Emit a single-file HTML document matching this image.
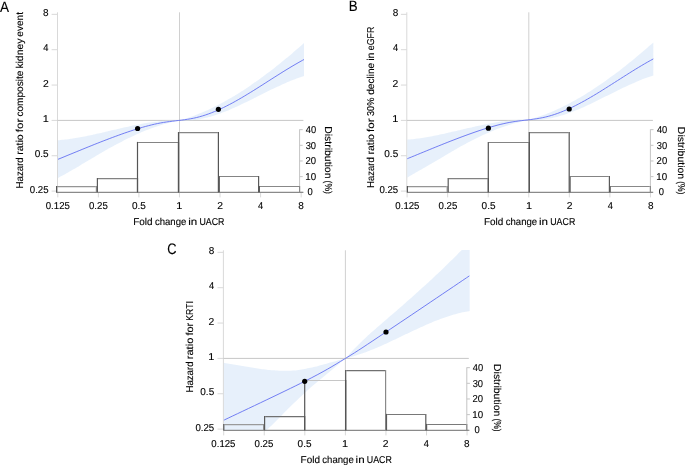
<!DOCTYPE html>
<html><head><meta charset="utf-8"><style>
html,body{margin:0;padding:0;background:#fff;width:685px;height:465px;overflow:hidden;}
svg{display:block;will-change:transform;font-family:"Liberation Sans", sans-serif;}
</style></head><body>
<svg width="685" height="465" viewBox="0 0 685 465">
<rect width="100%" height="100%" fill="#fff"/>
<g transform="translate(0.00 0.00)">
<line x1="57.50" y1="12.30" x2="57.50" y2="192.30" stroke="#d9d9d9" stroke-width="1"/>
<line x1="51.60" y1="14.35" x2="57.50" y2="14.35" stroke="#d9d9d9" stroke-width="1"/>
<line x1="51.60" y1="49.70" x2="57.50" y2="49.70" stroke="#d9d9d9" stroke-width="1"/>
<line x1="51.60" y1="85.05" x2="57.50" y2="85.05" stroke="#d9d9d9" stroke-width="1"/>
<line x1="51.60" y1="120.40" x2="57.50" y2="120.40" stroke="#d9d9d9" stroke-width="1"/>
<line x1="51.60" y1="155.75" x2="57.50" y2="155.75" stroke="#d9d9d9" stroke-width="1"/>
<line x1="51.60" y1="191.10" x2="57.50" y2="191.10" stroke="#d9d9d9" stroke-width="1"/>
<line x1="57.80" y1="192.80" x2="57.80" y2="197.40" stroke="#d9d9d9" stroke-width="1"/>
<line x1="98.36" y1="192.80" x2="98.36" y2="197.40" stroke="#d9d9d9" stroke-width="1"/>
<line x1="138.92" y1="192.80" x2="138.92" y2="197.40" stroke="#d9d9d9" stroke-width="1"/>
<line x1="179.48" y1="192.80" x2="179.48" y2="197.40" stroke="#d9d9d9" stroke-width="1"/>
<line x1="220.04" y1="192.80" x2="220.04" y2="197.40" stroke="#d9d9d9" stroke-width="1"/>
<line x1="260.60" y1="192.80" x2="260.60" y2="197.40" stroke="#d9d9d9" stroke-width="1"/>
<line x1="301.16" y1="192.80" x2="301.16" y2="197.40" stroke="#d9d9d9" stroke-width="1"/>
<line x1="179.50" y1="12.30" x2="179.50" y2="192.30" stroke="#d0d0d0" stroke-width="1"/>
<line x1="57.50" y1="120.40" x2="303.40" y2="120.40" stroke="#c6c6c6" stroke-width="1"/>
</g>
<g transform="translate(0.00 0.00)">
<clipPath id="clipA"><rect x="58.00" y="12.00" width="246.30" height="180.30"/></clipPath>
<line x1="299.60" y1="129.36" x2="299.60" y2="192.30" stroke="#c4c4c4" stroke-width="1"/>
<line x1="299.60" y1="192.30" x2="302.70" y2="192.30" stroke="#c4c4c4" stroke-width="1"/>
<line x1="299.60" y1="176.64" x2="302.70" y2="176.64" stroke="#c4c4c4" stroke-width="1"/>
<line x1="299.60" y1="160.98" x2="302.70" y2="160.98" stroke="#c4c4c4" stroke-width="1"/>
<line x1="299.60" y1="145.32" x2="302.70" y2="145.32" stroke="#c4c4c4" stroke-width="1"/>
<line x1="299.60" y1="129.66" x2="302.70" y2="129.66" stroke="#c4c4c4" stroke-width="1"/>
<g clip-path="url(#clipA)"><g><path d="M56.00,140.34 C56.50,140.30 58.00,140.21 59.01,140.13 C60.01,140.05 61.01,139.96 62.01,139.87 C63.02,139.77 64.02,139.66 65.02,139.55 C66.02,139.44 67.03,139.32 68.03,139.19 C69.03,139.06 70.03,138.92 71.04,138.78 C72.04,138.64 73.04,138.49 74.04,138.33 C75.05,138.18 76.05,138.01 77.05,137.84 C78.05,137.68 79.06,137.50 80.06,137.32 C81.06,137.14 82.06,136.95 83.07,136.76 C84.07,136.57 85.07,136.38 86.07,136.18 C87.08,135.98 88.08,135.77 89.08,135.57 C90.08,135.36 91.09,135.15 92.09,134.93 C93.09,134.72 94.09,134.50 95.10,134.28 C96.10,134.06 97.10,133.83 98.10,133.60 C99.10,133.38 100.11,133.15 101.11,132.92 C102.11,132.69 103.11,132.46 104.12,132.22 C105.12,131.99 106.12,131.75 107.12,131.52 C108.13,131.28 109.13,131.05 110.13,130.81 C111.13,130.57 112.14,130.33 113.14,130.10 C114.14,129.86 115.14,129.62 116.15,129.39 C117.15,129.15 118.15,128.92 119.15,128.69 C120.16,128.45 121.16,128.22 122.16,127.99 C123.16,127.76 124.17,127.53 125.17,127.30 C126.17,127.08 127.17,126.85 128.18,126.63 C129.18,126.41 130.18,126.19 131.18,125.98 C132.19,125.77 133.19,125.55 134.19,125.35 C135.19,125.14 136.20,124.94 137.20,124.74 C138.20,124.54 139.20,124.34 140.20,124.15 C141.21,123.96 142.21,123.78 143.21,123.60 C144.21,123.42 145.22,123.25 146.22,123.08 C147.22,122.91 148.22,122.75 149.23,122.59 C150.23,122.44 151.23,122.29 152.23,122.15 C153.24,122.01 154.24,121.87 155.24,121.74 C156.24,121.62 157.25,121.50 158.25,121.38 C159.25,121.27 160.25,121.17 161.26,121.07 C162.26,120.98 163.26,120.89 164.26,120.82 C165.27,120.74 166.27,120.67 167.27,120.61 C168.27,120.55 169.28,120.50 170.28,120.46 C171.28,120.42 172.28,120.40 173.29,120.38 C174.29,120.36 175.29,120.35 176.29,120.36 C177.30,120.36 178.30,120.53 179.30,120.40 C180.30,120.27 181.28,119.86 182.27,119.57 C183.26,119.28 184.25,118.98 185.24,118.68 C186.23,118.37 187.22,118.05 188.21,117.72 C189.20,117.40 190.19,117.06 191.18,116.71 C192.17,116.37 193.16,116.01 194.15,115.64 C195.13,115.28 196.12,114.90 197.11,114.52 C198.10,114.13 199.09,113.74 200.08,113.33 C201.07,112.93 202.06,112.51 203.05,112.09 C204.04,111.67 205.03,111.24 206.02,110.80 C207.01,110.36 208.00,109.91 208.99,109.45 C209.98,108.99 210.97,108.52 211.96,108.05 C212.95,107.57 213.94,107.09 214.93,106.59 C215.92,106.10 216.91,105.60 217.90,105.09 C218.89,104.58 219.88,104.06 220.87,103.53 C221.86,103.01 222.85,102.47 223.84,101.93 C224.83,101.38 225.82,100.83 226.80,100.27 C227.79,99.71 228.78,99.15 229.77,98.57 C230.76,98.00 231.75,97.41 232.74,96.82 C233.73,96.23 234.72,95.64 235.71,95.03 C236.70,94.42 237.69,93.81 238.68,93.19 C239.67,92.57 240.66,91.94 241.65,91.31 C242.64,90.67 243.63,90.03 244.62,89.38 C245.61,88.73 246.60,88.07 247.59,87.41 C248.58,86.75 249.57,86.08 250.56,85.40 C251.55,84.72 252.54,84.04 253.53,83.35 C254.52,82.66 255.51,81.96 256.50,81.26 C257.48,80.55 258.47,79.84 259.46,79.13 C260.45,78.41 261.44,77.69 262.43,76.96 C263.42,76.23 264.41,75.49 265.40,74.75 C266.39,74.01 267.38,73.26 268.37,72.51 C269.36,71.76 270.35,71.00 271.34,70.23 C272.33,69.47 273.32,68.70 274.31,67.92 C275.30,67.15 276.29,66.36 277.28,65.58 C278.27,64.79 279.26,64.00 280.25,63.20 C281.24,62.40 282.23,61.60 283.22,60.79 C284.21,59.98 285.20,59.17 286.19,58.35 C287.18,57.53 288.17,56.71 289.15,55.88 C290.14,55.05 291.13,54.22 292.12,53.38 C293.11,52.54 294.10,51.70 295.09,50.85 C296.08,50.00 297.07,49.15 298.06,48.30 C299.05,47.44 300.04,46.58 301.03,45.71 C302.02,44.85 303.51,43.54 304.00,43.11 L304.00,76.08 C303.51,76.24 302.02,76.70 301.03,77.03 C300.04,77.36 299.05,77.70 298.06,78.05 C297.07,78.41 296.08,78.77 295.09,79.14 C294.10,79.51 293.11,79.90 292.12,80.29 C291.13,80.68 290.14,81.08 289.15,81.49 C288.17,81.90 287.18,82.32 286.19,82.74 C285.20,83.17 284.21,83.60 283.22,84.04 C282.23,84.48 281.24,84.93 280.25,85.38 C279.26,85.83 278.27,86.29 277.28,86.75 C276.29,87.21 275.30,87.68 274.31,88.16 C273.32,88.63 272.33,89.11 271.34,89.59 C270.35,90.07 269.36,90.55 268.37,91.04 C267.38,91.53 266.39,92.02 265.40,92.51 C264.41,93.00 263.42,93.49 262.43,93.99 C261.44,94.48 260.45,94.98 259.46,95.48 C258.47,95.97 257.48,96.47 256.50,96.96 C255.51,97.46 254.52,97.96 253.53,98.45 C252.54,98.94 251.55,99.44 250.56,99.93 C249.57,100.42 248.58,100.91 247.59,101.39 C246.60,101.88 245.61,102.36 244.62,102.84 C243.63,103.32 242.64,103.79 241.65,104.26 C240.66,104.73 239.67,105.20 238.68,105.66 C237.69,106.12 236.70,106.58 235.71,107.03 C234.72,107.48 233.73,107.92 232.74,108.36 C231.75,108.79 230.76,109.22 229.77,109.64 C228.78,110.06 227.79,110.48 226.80,110.88 C225.82,111.29 224.83,111.68 223.84,112.07 C222.85,112.46 221.86,112.83 220.87,113.20 C219.88,113.57 218.89,113.93 217.90,114.27 C216.91,114.62 215.92,114.95 214.93,115.28 C213.94,115.60 212.95,115.91 211.96,116.21 C210.97,116.51 209.98,116.79 208.99,117.07 C208.00,117.34 207.01,117.60 206.02,117.84 C205.03,118.09 204.04,118.32 203.05,118.53 C202.06,118.75 201.07,118.95 200.08,119.13 C199.09,119.32 198.10,119.49 197.11,119.64 C196.12,119.79 195.13,119.93 194.15,120.05 C193.16,120.16 192.17,120.26 191.18,120.35 C190.19,120.43 189.20,120.49 188.21,120.54 C187.22,120.58 186.23,120.61 185.24,120.61 C184.25,120.62 183.26,120.60 182.27,120.57 C181.28,120.53 180.30,120.32 179.30,120.40 C178.30,120.48 177.30,120.82 176.29,121.04 C175.29,121.26 174.29,121.49 173.29,121.73 C172.28,121.97 171.28,122.22 170.28,122.48 C169.28,122.74 168.27,123.00 167.27,123.27 C166.27,123.55 165.27,123.83 164.26,124.12 C163.26,124.42 162.26,124.72 161.26,125.02 C160.25,125.33 159.25,125.65 158.25,125.98 C157.25,126.30 156.24,126.64 155.24,126.98 C154.24,127.32 153.24,127.68 152.23,128.04 C151.23,128.40 150.23,128.77 149.23,129.15 C148.22,129.52 147.22,129.91 146.22,130.31 C145.22,130.70 144.21,131.11 143.21,131.52 C142.21,131.93 141.21,132.35 140.20,132.78 C139.20,133.21 138.20,133.65 137.20,134.10 C136.20,134.54 135.19,135.00 134.19,135.46 C133.19,135.93 132.19,136.40 131.18,136.88 C130.18,137.36 129.18,137.84 128.18,138.34 C127.17,138.83 126.17,139.33 125.17,139.84 C124.17,140.34 123.16,140.86 122.16,141.38 C121.16,141.90 120.16,142.42 119.15,142.95 C118.15,143.48 117.15,144.02 116.15,144.56 C115.14,145.10 114.14,145.65 113.14,146.20 C112.14,146.75 111.13,147.31 110.13,147.87 C109.13,148.43 108.13,148.99 107.12,149.56 C106.12,150.13 105.12,150.70 104.12,151.27 C103.11,151.85 102.11,152.42 101.11,153.00 C100.11,153.58 99.10,154.16 98.10,154.75 C97.10,155.33 96.10,155.92 95.10,156.51 C94.09,157.10 93.09,157.69 92.09,158.28 C91.09,158.87 90.08,159.46 89.08,160.05 C88.08,160.64 87.08,161.24 86.07,161.83 C85.07,162.42 84.07,163.02 83.07,163.61 C82.06,164.20 81.06,164.80 80.06,165.39 C79.06,165.98 78.05,166.57 77.05,167.16 C76.05,167.75 75.05,168.34 74.04,168.93 C73.04,169.51 72.04,170.10 71.04,170.68 C70.03,171.26 69.03,171.84 68.03,172.42 C67.03,173.00 66.02,173.57 65.02,174.15 C64.02,174.72 63.02,175.29 62.01,175.85 C61.01,176.41 60.01,176.97 59.01,177.53 C58.00,178.09 56.50,178.91 56.00,179.19 Z" fill="rgb(213,228,248)" fill-opacity="0.56"/></g></g>
<line x1="56.00" y1="192.30" x2="303.40" y2="192.30" stroke="#8a8a8a" stroke-width="1.2"/>
<line x1="57.20" y1="186.66" x2="95.80" y2="186.66" stroke="#959595" stroke-width="1.2"/>
<line x1="98.00" y1="178.60" x2="136.90" y2="178.60" stroke="#828282" stroke-width="1.2"/>
<line x1="138.10" y1="142.50" x2="177.90" y2="142.50" stroke="#848484" stroke-width="1.2"/>
<line x1="179.10" y1="132.64" x2="217.80" y2="132.64" stroke="#868686" stroke-width="1.2"/>
<line x1="219.90" y1="176.48" x2="258.00" y2="176.48" stroke="#848484" stroke-width="1.2"/>
<line x1="260.00" y1="186.51" x2="299.00" y2="186.51" stroke="#888888" stroke-width="1.2"/>
<line x1="96.40" y1="186.06" x2="96.40" y2="192.30" stroke="#8f8f8f" stroke-width="1.2"/>
<line x1="137.50" y1="178.00" x2="137.50" y2="192.30" stroke="#5a5a5a" stroke-width="1.2"/>
<line x1="178.50" y1="141.90" x2="178.50" y2="192.30" stroke="#555555" stroke-width="1.2"/>
<line x1="218.40" y1="132.04" x2="218.40" y2="192.30" stroke="#555555" stroke-width="1.2"/>
<line x1="258.60" y1="175.88" x2="258.60" y2="192.30" stroke="#5a5a5a" stroke-width="1.2"/>
<line x1="299.60" y1="185.91" x2="299.60" y2="192.30" stroke="#8a8a8a" stroke-width="1.2"/>
<line x1="56.60" y1="186.06" x2="56.60" y2="192.30" stroke="#555555" stroke-width="1.2"/>
<line x1="97.40" y1="178.00" x2="97.40" y2="192.30" stroke="#5a5a5a" stroke-width="1.2"/>
<line x1="137.50" y1="141.90" x2="137.50" y2="192.30" stroke="#555555" stroke-width="1.2"/>
<line x1="178.50" y1="132.04" x2="178.50" y2="192.30" stroke="#555555" stroke-width="1.2"/>
<line x1="219.30" y1="175.88" x2="219.30" y2="192.30" stroke="#5a5a5a" stroke-width="1.2"/>
<line x1="259.40" y1="185.91" x2="259.40" y2="192.30" stroke="#5a5a5a" stroke-width="1.2"/>
<g clip-path="url(#clipA)"><g><path d="M56.00,160.13 C56.50,159.93 57.99,159.32 58.99,158.91 C59.98,158.50 60.98,158.10 61.98,157.69 C62.97,157.28 63.97,156.87 64.96,156.46 C65.96,156.05 66.96,155.64 67.95,155.23 C68.95,154.82 69.94,154.41 70.94,154.00 C71.94,153.60 72.93,153.19 73.93,152.78 C74.92,152.37 75.92,151.96 76.92,151.55 C77.91,151.14 78.91,150.73 79.90,150.33 C80.90,149.92 81.90,149.51 82.89,149.11 C83.89,148.70 84.88,148.29 85.88,147.89 C86.88,147.49 87.87,147.08 88.87,146.68 C89.86,146.28 90.86,145.88 91.86,145.48 C92.85,145.08 93.85,144.68 94.84,144.28 C95.84,143.89 96.84,143.49 97.83,143.10 C98.83,142.71 99.82,142.31 100.82,141.92 C101.82,141.53 102.81,141.15 103.81,140.76 C104.80,140.38 105.80,139.99 106.80,139.61 C107.79,139.23 108.79,138.85 109.78,138.47 C110.78,138.10 111.78,137.72 112.77,137.35 C113.77,136.98 114.76,136.61 115.76,136.25 C116.76,135.88 117.75,135.52 118.75,135.16 C119.74,134.80 120.74,134.44 121.73,134.09 C122.73,133.73 123.73,133.38 124.72,133.03 C125.72,132.69 126.71,132.34 127.71,132.00 C128.71,131.66 129.70,131.33 130.70,130.99 C131.69,130.66 132.69,130.34 133.69,130.01 C134.68,129.69 135.68,129.37 136.67,129.06 C137.67,128.75 138.67,128.45 139.66,128.15 C140.66,127.85 141.65,127.55 142.65,127.27 C143.65,126.98 144.64,126.70 145.64,126.43 C146.63,126.15 147.63,125.89 148.63,125.63 C149.62,125.37 150.62,125.12 151.61,124.88 C152.61,124.64 153.61,124.41 154.60,124.18 C155.60,123.96 156.59,123.74 157.59,123.54 C158.59,123.33 159.58,123.14 160.58,122.95 C161.57,122.77 162.57,122.59 163.57,122.43 C164.56,122.26 165.56,122.11 166.55,121.96 C167.55,121.82 168.55,121.68 169.54,121.55 C170.54,121.42 171.53,121.30 172.53,121.18 C173.53,121.06 174.52,120.95 175.52,120.83 C176.51,120.71 177.51,120.60 178.51,120.48 C179.50,120.36 180.50,120.25 181.49,120.12 C182.49,120.00 183.49,119.87 184.48,119.73 C185.48,119.60 186.47,119.46 187.47,119.30 C188.47,119.15 189.46,118.99 190.46,118.81 C191.45,118.63 192.45,118.44 193.45,118.24 C194.44,118.03 195.44,117.81 196.43,117.57 C197.43,117.34 198.43,117.08 199.42,116.81 C200.42,116.54 201.41,116.25 202.41,115.95 C203.41,115.65 204.40,115.33 205.40,115.00 C206.39,114.67 207.39,114.32 208.39,113.96 C209.38,113.60 210.38,113.22 211.37,112.84 C212.37,112.45 213.37,112.05 214.36,111.63 C215.36,111.22 216.35,110.80 217.35,110.36 C218.35,109.92 219.34,109.47 220.34,109.01 C221.33,108.55 222.33,108.08 223.33,107.60 C224.32,107.11 225.32,106.62 226.31,106.12 C227.31,105.62 228.31,105.11 229.30,104.58 C230.30,104.06 231.29,103.53 232.29,103.00 C233.29,102.46 234.28,101.91 235.28,101.36 C236.27,100.80 237.27,100.24 238.27,99.67 C239.26,99.10 240.26,98.53 241.25,97.95 C242.25,97.36 243.24,96.78 244.24,96.18 C245.24,95.59 246.23,94.99 247.23,94.39 C248.22,93.78 249.22,93.17 250.22,92.56 C251.21,91.95 252.21,91.33 253.20,90.71 C254.20,90.09 255.20,89.46 256.19,88.84 C257.19,88.21 258.18,87.58 259.18,86.95 C260.18,86.32 261.17,85.69 262.17,85.05 C263.16,84.42 264.16,83.78 265.16,83.14 C266.15,82.51 267.15,81.87 268.14,81.23 C269.14,80.60 270.14,79.96 271.13,79.32 C272.13,78.68 273.12,78.05 274.12,77.41 C275.12,76.78 276.11,76.15 277.11,75.52 C278.10,74.89 279.10,74.26 280.10,73.63 C281.09,73.01 282.09,72.38 283.08,71.76 C284.08,71.14 285.08,70.53 286.07,69.92 C287.07,69.31 288.06,68.70 289.06,68.10 C290.06,67.49 291.05,66.90 292.05,66.30 C293.04,65.71 294.04,65.13 295.04,64.55 C296.03,63.97 297.03,63.39 298.02,62.83 C299.02,62.26 300.02,61.70 301.01,61.15 C302.01,60.60 303.50,59.79 304.00,59.52" fill="none" stroke="#6470f2" stroke-width="0.9"/></g></g>
<circle cx="137.60" cy="128.50" r="2.6" fill="#000"/>
<circle cx="218.40" cy="109.30" r="2.6" fill="#000"/>
</g>
<g transform="translate(349.30 0.00)">
<line x1="57.50" y1="12.30" x2="57.50" y2="192.30" stroke="#d9d9d9" stroke-width="1"/>
<line x1="51.60" y1="14.35" x2="57.50" y2="14.35" stroke="#d9d9d9" stroke-width="1"/>
<line x1="51.60" y1="49.70" x2="57.50" y2="49.70" stroke="#d9d9d9" stroke-width="1"/>
<line x1="51.60" y1="85.05" x2="57.50" y2="85.05" stroke="#d9d9d9" stroke-width="1"/>
<line x1="51.60" y1="120.40" x2="57.50" y2="120.40" stroke="#d9d9d9" stroke-width="1"/>
<line x1="51.60" y1="155.75" x2="57.50" y2="155.75" stroke="#d9d9d9" stroke-width="1"/>
<line x1="51.60" y1="191.10" x2="57.50" y2="191.10" stroke="#d9d9d9" stroke-width="1"/>
<line x1="57.80" y1="192.80" x2="57.80" y2="197.40" stroke="#d9d9d9" stroke-width="1"/>
<line x1="98.36" y1="192.80" x2="98.36" y2="197.40" stroke="#d9d9d9" stroke-width="1"/>
<line x1="138.92" y1="192.80" x2="138.92" y2="197.40" stroke="#d9d9d9" stroke-width="1"/>
<line x1="179.48" y1="192.80" x2="179.48" y2="197.40" stroke="#d9d9d9" stroke-width="1"/>
<line x1="220.04" y1="192.80" x2="220.04" y2="197.40" stroke="#d9d9d9" stroke-width="1"/>
<line x1="260.60" y1="192.80" x2="260.60" y2="197.40" stroke="#d9d9d9" stroke-width="1"/>
<line x1="301.16" y1="192.80" x2="301.16" y2="197.40" stroke="#d9d9d9" stroke-width="1"/>
<line x1="179.50" y1="12.30" x2="179.50" y2="192.30" stroke="#d0d0d0" stroke-width="1"/>
<line x1="57.50" y1="120.40" x2="303.60" y2="120.40" stroke="#c6c6c6" stroke-width="1"/>
</g>
<g transform="translate(350.80 0.00)">
<clipPath id="clipB"><rect x="56.50" y="12.00" width="247.80" height="180.30"/></clipPath>
<line x1="299.60" y1="129.36" x2="299.60" y2="192.30" stroke="#c4c4c4" stroke-width="1"/>
<line x1="299.60" y1="192.30" x2="302.70" y2="192.30" stroke="#c4c4c4" stroke-width="1"/>
<line x1="299.60" y1="176.64" x2="302.70" y2="176.64" stroke="#c4c4c4" stroke-width="1"/>
<line x1="299.60" y1="160.98" x2="302.70" y2="160.98" stroke="#c4c4c4" stroke-width="1"/>
<line x1="299.60" y1="145.32" x2="302.70" y2="145.32" stroke="#c4c4c4" stroke-width="1"/>
<line x1="299.60" y1="129.66" x2="302.70" y2="129.66" stroke="#c4c4c4" stroke-width="1"/>
<g clip-path="url(#clipB)"><g transform="translate(-1.50 -0.60)"><path d="M56.00,140.34 C56.50,140.30 58.00,140.21 59.01,140.13 C60.01,140.05 61.01,139.96 62.01,139.87 C63.02,139.77 64.02,139.66 65.02,139.55 C66.02,139.44 67.03,139.32 68.03,139.19 C69.03,139.06 70.03,138.92 71.04,138.78 C72.04,138.64 73.04,138.49 74.04,138.33 C75.05,138.18 76.05,138.01 77.05,137.84 C78.05,137.68 79.06,137.50 80.06,137.32 C81.06,137.14 82.06,136.95 83.07,136.76 C84.07,136.57 85.07,136.38 86.07,136.18 C87.08,135.98 88.08,135.77 89.08,135.57 C90.08,135.36 91.09,135.15 92.09,134.93 C93.09,134.72 94.09,134.50 95.10,134.28 C96.10,134.06 97.10,133.83 98.10,133.60 C99.10,133.38 100.11,133.15 101.11,132.92 C102.11,132.69 103.11,132.46 104.12,132.22 C105.12,131.99 106.12,131.75 107.12,131.52 C108.13,131.28 109.13,131.05 110.13,130.81 C111.13,130.57 112.14,130.33 113.14,130.10 C114.14,129.86 115.14,129.62 116.15,129.39 C117.15,129.15 118.15,128.92 119.15,128.69 C120.16,128.45 121.16,128.22 122.16,127.99 C123.16,127.76 124.17,127.53 125.17,127.30 C126.17,127.08 127.17,126.85 128.18,126.63 C129.18,126.41 130.18,126.19 131.18,125.98 C132.19,125.77 133.19,125.55 134.19,125.35 C135.19,125.14 136.20,124.94 137.20,124.74 C138.20,124.54 139.20,124.34 140.20,124.15 C141.21,123.96 142.21,123.78 143.21,123.60 C144.21,123.42 145.22,123.25 146.22,123.08 C147.22,122.91 148.22,122.75 149.23,122.59 C150.23,122.44 151.23,122.29 152.23,122.15 C153.24,122.01 154.24,121.87 155.24,121.74 C156.24,121.62 157.25,121.50 158.25,121.38 C159.25,121.27 160.25,121.17 161.26,121.07 C162.26,120.98 163.26,120.89 164.26,120.82 C165.27,120.74 166.27,120.67 167.27,120.61 C168.27,120.55 169.28,120.50 170.28,120.46 C171.28,120.42 172.28,120.40 173.29,120.38 C174.29,120.36 175.29,120.35 176.29,120.36 C177.30,120.36 178.30,120.53 179.30,120.40 C180.30,120.27 181.28,119.86 182.27,119.57 C183.26,119.28 184.25,118.98 185.24,118.68 C186.23,118.37 187.22,118.05 188.21,117.72 C189.20,117.40 190.19,117.06 191.18,116.71 C192.17,116.37 193.16,116.01 194.15,115.64 C195.13,115.28 196.12,114.90 197.11,114.52 C198.10,114.13 199.09,113.74 200.08,113.33 C201.07,112.93 202.06,112.51 203.05,112.09 C204.04,111.67 205.03,111.24 206.02,110.80 C207.01,110.36 208.00,109.91 208.99,109.45 C209.98,108.99 210.97,108.52 211.96,108.05 C212.95,107.57 213.94,107.09 214.93,106.59 C215.92,106.10 216.91,105.60 217.90,105.09 C218.89,104.58 219.88,104.06 220.87,103.53 C221.86,103.01 222.85,102.47 223.84,101.93 C224.83,101.38 225.82,100.83 226.80,100.27 C227.79,99.71 228.78,99.15 229.77,98.57 C230.76,98.00 231.75,97.41 232.74,96.82 C233.73,96.23 234.72,95.64 235.71,95.03 C236.70,94.42 237.69,93.81 238.68,93.19 C239.67,92.57 240.66,91.94 241.65,91.31 C242.64,90.67 243.63,90.03 244.62,89.38 C245.61,88.73 246.60,88.07 247.59,87.41 C248.58,86.75 249.57,86.08 250.56,85.40 C251.55,84.72 252.54,84.04 253.53,83.35 C254.52,82.66 255.51,81.96 256.50,81.26 C257.48,80.55 258.47,79.84 259.46,79.13 C260.45,78.41 261.44,77.69 262.43,76.96 C263.42,76.23 264.41,75.49 265.40,74.75 C266.39,74.01 267.38,73.26 268.37,72.51 C269.36,71.76 270.35,71.00 271.34,70.23 C272.33,69.47 273.32,68.70 274.31,67.92 C275.30,67.15 276.29,66.36 277.28,65.58 C278.27,64.79 279.26,64.00 280.25,63.20 C281.24,62.40 282.23,61.60 283.22,60.79 C284.21,59.98 285.20,59.17 286.19,58.35 C287.18,57.53 288.17,56.71 289.15,55.88 C290.14,55.05 291.13,54.22 292.12,53.38 C293.11,52.54 294.10,51.70 295.09,50.85 C296.08,50.00 297.07,49.15 298.06,48.30 C299.05,47.44 300.04,46.58 301.03,45.71 C302.02,44.85 303.51,43.54 304.00,43.11 L304.00,76.08 C303.51,76.24 302.02,76.70 301.03,77.03 C300.04,77.36 299.05,77.70 298.06,78.05 C297.07,78.41 296.08,78.77 295.09,79.14 C294.10,79.51 293.11,79.90 292.12,80.29 C291.13,80.68 290.14,81.08 289.15,81.49 C288.17,81.90 287.18,82.32 286.19,82.74 C285.20,83.17 284.21,83.60 283.22,84.04 C282.23,84.48 281.24,84.93 280.25,85.38 C279.26,85.83 278.27,86.29 277.28,86.75 C276.29,87.21 275.30,87.68 274.31,88.16 C273.32,88.63 272.33,89.11 271.34,89.59 C270.35,90.07 269.36,90.55 268.37,91.04 C267.38,91.53 266.39,92.02 265.40,92.51 C264.41,93.00 263.42,93.49 262.43,93.99 C261.44,94.48 260.45,94.98 259.46,95.48 C258.47,95.97 257.48,96.47 256.50,96.96 C255.51,97.46 254.52,97.96 253.53,98.45 C252.54,98.94 251.55,99.44 250.56,99.93 C249.57,100.42 248.58,100.91 247.59,101.39 C246.60,101.88 245.61,102.36 244.62,102.84 C243.63,103.32 242.64,103.79 241.65,104.26 C240.66,104.73 239.67,105.20 238.68,105.66 C237.69,106.12 236.70,106.58 235.71,107.03 C234.72,107.48 233.73,107.92 232.74,108.36 C231.75,108.79 230.76,109.22 229.77,109.64 C228.78,110.06 227.79,110.48 226.80,110.88 C225.82,111.29 224.83,111.68 223.84,112.07 C222.85,112.46 221.86,112.83 220.87,113.20 C219.88,113.57 218.89,113.93 217.90,114.27 C216.91,114.62 215.92,114.95 214.93,115.28 C213.94,115.60 212.95,115.91 211.96,116.21 C210.97,116.51 209.98,116.79 208.99,117.07 C208.00,117.34 207.01,117.60 206.02,117.84 C205.03,118.09 204.04,118.32 203.05,118.53 C202.06,118.75 201.07,118.95 200.08,119.13 C199.09,119.32 198.10,119.49 197.11,119.64 C196.12,119.79 195.13,119.93 194.15,120.05 C193.16,120.16 192.17,120.26 191.18,120.35 C190.19,120.43 189.20,120.49 188.21,120.54 C187.22,120.58 186.23,120.61 185.24,120.61 C184.25,120.62 183.26,120.60 182.27,120.57 C181.28,120.53 180.30,120.32 179.30,120.40 C178.30,120.48 177.30,120.82 176.29,121.04 C175.29,121.26 174.29,121.49 173.29,121.73 C172.28,121.97 171.28,122.22 170.28,122.48 C169.28,122.74 168.27,123.00 167.27,123.27 C166.27,123.55 165.27,123.83 164.26,124.12 C163.26,124.42 162.26,124.72 161.26,125.02 C160.25,125.33 159.25,125.65 158.25,125.98 C157.25,126.30 156.24,126.64 155.24,126.98 C154.24,127.32 153.24,127.68 152.23,128.04 C151.23,128.40 150.23,128.77 149.23,129.15 C148.22,129.52 147.22,129.91 146.22,130.31 C145.22,130.70 144.21,131.11 143.21,131.52 C142.21,131.93 141.21,132.35 140.20,132.78 C139.20,133.21 138.20,133.65 137.20,134.10 C136.20,134.54 135.19,135.00 134.19,135.46 C133.19,135.93 132.19,136.40 131.18,136.88 C130.18,137.36 129.18,137.84 128.18,138.34 C127.17,138.83 126.17,139.33 125.17,139.84 C124.17,140.34 123.16,140.86 122.16,141.38 C121.16,141.90 120.16,142.42 119.15,142.95 C118.15,143.48 117.15,144.02 116.15,144.56 C115.14,145.10 114.14,145.65 113.14,146.20 C112.14,146.75 111.13,147.31 110.13,147.87 C109.13,148.43 108.13,148.99 107.12,149.56 C106.12,150.13 105.12,150.70 104.12,151.27 C103.11,151.85 102.11,152.42 101.11,153.00 C100.11,153.58 99.10,154.16 98.10,154.75 C97.10,155.33 96.10,155.92 95.10,156.51 C94.09,157.10 93.09,157.69 92.09,158.28 C91.09,158.87 90.08,159.46 89.08,160.05 C88.08,160.64 87.08,161.24 86.07,161.83 C85.07,162.42 84.07,163.02 83.07,163.61 C82.06,164.20 81.06,164.80 80.06,165.39 C79.06,165.98 78.05,166.57 77.05,167.16 C76.05,167.75 75.05,168.34 74.04,168.93 C73.04,169.51 72.04,170.10 71.04,170.68 C70.03,171.26 69.03,171.84 68.03,172.42 C67.03,173.00 66.02,173.57 65.02,174.15 C64.02,174.72 63.02,175.29 62.01,175.85 C61.01,176.41 60.01,176.97 59.01,177.53 C58.00,178.09 56.50,178.91 56.00,179.19 Z" fill="rgb(213,228,248)" fill-opacity="0.56"/></g></g>
<line x1="56.00" y1="192.30" x2="302.10" y2="192.30" stroke="#8a8a8a" stroke-width="1.2"/>
<line x1="57.20" y1="186.66" x2="95.80" y2="186.66" stroke="#959595" stroke-width="1.2"/>
<line x1="98.00" y1="178.60" x2="136.90" y2="178.60" stroke="#828282" stroke-width="1.2"/>
<line x1="138.10" y1="142.50" x2="177.90" y2="142.50" stroke="#848484" stroke-width="1.2"/>
<line x1="179.10" y1="132.64" x2="217.80" y2="132.64" stroke="#868686" stroke-width="1.2"/>
<line x1="219.90" y1="176.48" x2="258.00" y2="176.48" stroke="#848484" stroke-width="1.2"/>
<line x1="260.00" y1="186.51" x2="299.00" y2="186.51" stroke="#888888" stroke-width="1.2"/>
<line x1="96.40" y1="186.06" x2="96.40" y2="192.30" stroke="#8f8f8f" stroke-width="1.2"/>
<line x1="137.50" y1="178.00" x2="137.50" y2="192.30" stroke="#5a5a5a" stroke-width="1.2"/>
<line x1="178.50" y1="141.90" x2="178.50" y2="192.30" stroke="#555555" stroke-width="1.2"/>
<line x1="218.40" y1="132.04" x2="218.40" y2="192.30" stroke="#555555" stroke-width="1.2"/>
<line x1="258.60" y1="175.88" x2="258.60" y2="192.30" stroke="#5a5a5a" stroke-width="1.2"/>
<line x1="299.60" y1="185.91" x2="299.60" y2="192.30" stroke="#8a8a8a" stroke-width="1.2"/>
<line x1="56.60" y1="186.06" x2="56.60" y2="192.30" stroke="#555555" stroke-width="1.2"/>
<line x1="97.40" y1="178.00" x2="97.40" y2="192.30" stroke="#5a5a5a" stroke-width="1.2"/>
<line x1="137.50" y1="141.90" x2="137.50" y2="192.30" stroke="#555555" stroke-width="1.2"/>
<line x1="178.50" y1="132.04" x2="178.50" y2="192.30" stroke="#555555" stroke-width="1.2"/>
<line x1="219.30" y1="175.88" x2="219.30" y2="192.30" stroke="#5a5a5a" stroke-width="1.2"/>
<line x1="259.40" y1="185.91" x2="259.40" y2="192.30" stroke="#5a5a5a" stroke-width="1.2"/>
<g clip-path="url(#clipB)"><g transform="translate(-1.50 -0.60)"><path d="M56.00,160.13 C56.50,159.93 57.99,159.32 58.99,158.91 C59.98,158.50 60.98,158.10 61.98,157.69 C62.97,157.28 63.97,156.87 64.96,156.46 C65.96,156.05 66.96,155.64 67.95,155.23 C68.95,154.82 69.94,154.41 70.94,154.00 C71.94,153.60 72.93,153.19 73.93,152.78 C74.92,152.37 75.92,151.96 76.92,151.55 C77.91,151.14 78.91,150.73 79.90,150.33 C80.90,149.92 81.90,149.51 82.89,149.11 C83.89,148.70 84.88,148.29 85.88,147.89 C86.88,147.49 87.87,147.08 88.87,146.68 C89.86,146.28 90.86,145.88 91.86,145.48 C92.85,145.08 93.85,144.68 94.84,144.28 C95.84,143.89 96.84,143.49 97.83,143.10 C98.83,142.71 99.82,142.31 100.82,141.92 C101.82,141.53 102.81,141.15 103.81,140.76 C104.80,140.38 105.80,139.99 106.80,139.61 C107.79,139.23 108.79,138.85 109.78,138.47 C110.78,138.10 111.78,137.72 112.77,137.35 C113.77,136.98 114.76,136.61 115.76,136.25 C116.76,135.88 117.75,135.52 118.75,135.16 C119.74,134.80 120.74,134.44 121.73,134.09 C122.73,133.73 123.73,133.38 124.72,133.03 C125.72,132.69 126.71,132.34 127.71,132.00 C128.71,131.66 129.70,131.33 130.70,130.99 C131.69,130.66 132.69,130.34 133.69,130.01 C134.68,129.69 135.68,129.37 136.67,129.06 C137.67,128.75 138.67,128.45 139.66,128.15 C140.66,127.85 141.65,127.55 142.65,127.27 C143.65,126.98 144.64,126.70 145.64,126.43 C146.63,126.15 147.63,125.89 148.63,125.63 C149.62,125.37 150.62,125.12 151.61,124.88 C152.61,124.64 153.61,124.41 154.60,124.18 C155.60,123.96 156.59,123.74 157.59,123.54 C158.59,123.33 159.58,123.14 160.58,122.95 C161.57,122.77 162.57,122.59 163.57,122.43 C164.56,122.26 165.56,122.11 166.55,121.96 C167.55,121.82 168.55,121.68 169.54,121.55 C170.54,121.42 171.53,121.30 172.53,121.18 C173.53,121.06 174.52,120.95 175.52,120.83 C176.51,120.71 177.51,120.60 178.51,120.48 C179.50,120.36 180.50,120.25 181.49,120.12 C182.49,120.00 183.49,119.87 184.48,119.73 C185.48,119.60 186.47,119.46 187.47,119.30 C188.47,119.15 189.46,118.99 190.46,118.81 C191.45,118.63 192.45,118.44 193.45,118.24 C194.44,118.03 195.44,117.81 196.43,117.57 C197.43,117.34 198.43,117.08 199.42,116.81 C200.42,116.54 201.41,116.25 202.41,115.95 C203.41,115.65 204.40,115.33 205.40,115.00 C206.39,114.67 207.39,114.32 208.39,113.96 C209.38,113.60 210.38,113.22 211.37,112.84 C212.37,112.45 213.37,112.05 214.36,111.63 C215.36,111.22 216.35,110.80 217.35,110.36 C218.35,109.92 219.34,109.47 220.34,109.01 C221.33,108.55 222.33,108.08 223.33,107.60 C224.32,107.11 225.32,106.62 226.31,106.12 C227.31,105.62 228.31,105.11 229.30,104.58 C230.30,104.06 231.29,103.53 232.29,103.00 C233.29,102.46 234.28,101.91 235.28,101.36 C236.27,100.80 237.27,100.24 238.27,99.67 C239.26,99.10 240.26,98.53 241.25,97.95 C242.25,97.36 243.24,96.78 244.24,96.18 C245.24,95.59 246.23,94.99 247.23,94.39 C248.22,93.78 249.22,93.17 250.22,92.56 C251.21,91.95 252.21,91.33 253.20,90.71 C254.20,90.09 255.20,89.46 256.19,88.84 C257.19,88.21 258.18,87.58 259.18,86.95 C260.18,86.32 261.17,85.69 262.17,85.05 C263.16,84.42 264.16,83.78 265.16,83.14 C266.15,82.51 267.15,81.87 268.14,81.23 C269.14,80.60 270.14,79.96 271.13,79.32 C272.13,78.68 273.12,78.05 274.12,77.41 C275.12,76.78 276.11,76.15 277.11,75.52 C278.10,74.89 279.10,74.26 280.10,73.63 C281.09,73.01 282.09,72.38 283.08,71.76 C284.08,71.14 285.08,70.53 286.07,69.92 C287.07,69.31 288.06,68.70 289.06,68.10 C290.06,67.49 291.05,66.90 292.05,66.30 C293.04,65.71 294.04,65.13 295.04,64.55 C296.03,63.97 297.03,63.39 298.02,62.83 C299.02,62.26 300.02,61.70 301.01,61.15 C302.01,60.60 303.50,59.79 304.00,59.52" fill="none" stroke="#6470f2" stroke-width="0.9"/></g></g>
<circle cx="137.60" cy="128.20" r="2.6" fill="#000"/>
<circle cx="218.40" cy="109.00" r="2.6" fill="#000"/>
</g>
<g transform="translate(165.90 238.00)">
<line x1="57.50" y1="12.30" x2="57.50" y2="192.30" stroke="#d9d9d9" stroke-width="1"/>
<line x1="51.60" y1="14.35" x2="57.50" y2="14.35" stroke="#d9d9d9" stroke-width="1"/>
<line x1="51.60" y1="49.70" x2="57.50" y2="49.70" stroke="#d9d9d9" stroke-width="1"/>
<line x1="51.60" y1="85.05" x2="57.50" y2="85.05" stroke="#d9d9d9" stroke-width="1"/>
<line x1="51.60" y1="120.40" x2="57.50" y2="120.40" stroke="#d9d9d9" stroke-width="1"/>
<line x1="51.60" y1="155.75" x2="57.50" y2="155.75" stroke="#d9d9d9" stroke-width="1"/>
<line x1="51.60" y1="191.10" x2="57.50" y2="191.10" stroke="#d9d9d9" stroke-width="1"/>
<line x1="57.80" y1="192.80" x2="57.80" y2="197.40" stroke="#d9d9d9" stroke-width="1"/>
<line x1="98.36" y1="192.80" x2="98.36" y2="197.40" stroke="#d9d9d9" stroke-width="1"/>
<line x1="138.92" y1="192.80" x2="138.92" y2="197.40" stroke="#d9d9d9" stroke-width="1"/>
<line x1="179.48" y1="192.80" x2="179.48" y2="197.40" stroke="#d9d9d9" stroke-width="1"/>
<line x1="220.04" y1="192.80" x2="220.04" y2="197.40" stroke="#d9d9d9" stroke-width="1"/>
<line x1="260.60" y1="192.80" x2="260.60" y2="197.40" stroke="#d9d9d9" stroke-width="1"/>
<line x1="301.16" y1="192.80" x2="301.16" y2="197.40" stroke="#d9d9d9" stroke-width="1"/>
<line x1="179.50" y1="12.30" x2="179.50" y2="192.30" stroke="#d0d0d0" stroke-width="1"/>
<line x1="57.50" y1="120.40" x2="302.90" y2="120.40" stroke="#c6c6c6" stroke-width="1"/>
</g>
<g transform="translate(167.20 238.00)">
<clipPath id="clipC"><rect x="56.70" y="12.00" width="245.80" height="180.30"/></clipPath>
<line x1="299.60" y1="129.36" x2="299.60" y2="192.30" stroke="#c4c4c4" stroke-width="1"/>
<line x1="299.60" y1="192.30" x2="302.70" y2="192.30" stroke="#c4c4c4" stroke-width="1"/>
<line x1="299.60" y1="176.64" x2="302.70" y2="176.64" stroke="#c4c4c4" stroke-width="1"/>
<line x1="299.60" y1="160.98" x2="302.70" y2="160.98" stroke="#c4c4c4" stroke-width="1"/>
<line x1="299.60" y1="145.32" x2="302.70" y2="145.32" stroke="#c4c4c4" stroke-width="1"/>
<line x1="299.60" y1="129.66" x2="302.70" y2="129.66" stroke="#c4c4c4" stroke-width="1"/>
<g clip-path="url(#clipC)"><g><path d="M54.30,124.60 C54.80,124.67 56.31,124.87 57.32,125.01 C58.33,125.15 59.33,125.30 60.34,125.45 C61.35,125.60 62.35,125.75 63.36,125.91 C64.37,126.07 65.37,126.24 66.38,126.40 C67.38,126.57 68.39,126.74 69.40,126.91 C70.40,127.08 71.41,127.25 72.42,127.43 C73.42,127.60 74.43,127.77 75.44,127.95 C76.44,128.12 77.45,128.30 78.46,128.47 C79.46,128.64 80.47,128.82 81.48,128.99 C82.48,129.16 83.49,129.33 84.50,129.50 C85.50,129.66 86.51,129.83 87.51,129.99 C88.52,130.15 89.53,130.30 90.53,130.46 C91.54,130.61 92.55,130.76 93.55,130.90 C94.56,131.04 95.57,131.18 96.57,131.31 C97.58,131.44 98.59,131.57 99.59,131.68 C100.60,131.80 101.61,131.91 102.61,132.01 C103.62,132.11 104.63,132.21 105.63,132.29 C106.64,132.38 107.64,132.45 108.65,132.52 C109.66,132.59 110.66,132.64 111.67,132.69 C112.68,132.73 113.68,132.77 114.69,132.79 C115.70,132.81 116.70,132.82 117.71,132.82 C118.72,132.82 119.72,132.81 120.73,132.78 C121.74,132.75 122.74,132.71 123.75,132.65 C124.76,132.60 125.76,132.53 126.77,132.44 C127.77,132.36 128.78,132.26 129.79,132.14 C130.79,132.02 131.80,131.89 132.81,131.74 C133.81,131.60 134.82,131.44 135.83,131.26 C136.83,131.09 137.84,130.91 138.85,130.71 C139.85,130.51 140.86,130.31 141.87,130.09 C142.87,129.87 143.88,129.64 144.89,129.41 C145.89,129.17 146.90,128.93 147.90,128.68 C148.91,128.43 149.92,128.17 150.92,127.91 C151.93,127.64 152.94,127.37 153.94,127.10 C154.95,126.83 155.96,126.55 156.96,126.27 C157.97,125.99 158.98,125.71 159.98,125.43 C160.99,125.14 162.00,124.86 163.00,124.57 C164.01,124.29 165.02,124.01 166.02,123.72 C167.03,123.44 168.03,123.16 169.04,122.88 C170.05,122.60 171.05,122.33 172.06,122.06 C173.07,121.79 174.07,121.52 175.08,121.26 C176.09,121.00 177.09,121.18 178.10,120.50 C179.11,119.81 180.11,118.25 181.12,117.15 C182.12,116.06 183.13,114.98 184.13,113.91 C185.14,112.85 186.14,111.81 187.15,110.77 C188.16,109.74 189.16,108.73 190.17,107.73 C191.17,106.72 192.18,105.74 193.18,104.76 C194.19,103.78 195.19,102.82 196.20,101.87 C197.21,100.92 198.21,99.98 199.22,99.05 C200.22,98.11 201.23,97.19 202.23,96.28 C203.24,95.37 204.24,94.46 205.25,93.56 C206.26,92.66 207.26,91.77 208.27,90.89 C209.27,90.00 210.28,89.12 211.28,88.25 C212.29,87.37 213.29,86.50 214.30,85.63 C215.31,84.76 216.31,83.90 217.32,83.03 C218.32,82.17 219.33,81.31 220.33,80.45 C221.34,79.58 222.34,78.72 223.35,77.86 C224.36,76.99 225.36,76.13 226.37,75.26 C227.37,74.39 228.38,73.53 229.38,72.65 C230.39,71.78 231.39,70.91 232.40,70.03 C233.41,69.16 234.41,68.28 235.42,67.40 C236.42,66.52 237.43,65.64 238.43,64.76 C239.44,63.87 240.44,62.98 241.45,62.09 C242.46,61.20 243.46,60.31 244.47,59.42 C245.47,58.52 246.48,57.62 247.48,56.72 C248.49,55.82 249.49,54.92 250.50,54.01 C251.51,53.11 252.51,52.20 253.52,51.29 C254.52,50.37 255.53,49.46 256.53,48.54 C257.54,47.62 258.54,46.70 259.55,45.77 C260.56,44.85 261.56,43.92 262.57,42.99 C263.57,42.05 264.58,41.12 265.58,40.18 C266.59,39.24 267.59,38.30 268.60,37.35 C269.61,36.40 270.61,35.45 271.62,34.50 C272.62,33.55 273.63,32.59 274.63,31.63 C275.64,30.66 276.64,29.70 277.65,28.73 C278.66,27.76 279.66,26.78 280.67,25.80 C281.67,24.83 282.68,23.84 283.68,22.86 C284.69,21.87 285.69,20.88 286.70,19.88 C287.71,18.89 288.71,17.88 289.72,16.88 C290.72,15.87 291.73,14.87 292.73,13.85 C293.74,12.84 294.74,11.82 295.75,10.79 C296.76,9.77 297.76,8.74 298.77,7.71 C299.77,6.67 300.78,5.63 301.78,4.59 C302.79,3.54 304.30,1.97 304.80,1.44 L304.80,72.83 C304.30,72.90 302.79,73.09 301.78,73.24 C300.78,73.40 299.77,73.56 298.77,73.75 C297.76,73.93 296.76,74.12 295.75,74.33 C294.74,74.54 293.74,74.77 292.73,75.00 C291.73,75.24 290.72,75.49 289.72,75.75 C288.71,76.01 287.71,76.29 286.70,76.57 C285.69,76.86 284.69,77.15 283.68,77.46 C282.68,77.77 281.67,78.09 280.67,78.41 C279.66,78.74 278.66,79.08 277.65,79.43 C276.64,79.78 275.64,80.14 274.63,80.50 C273.63,80.87 272.62,81.25 271.62,81.63 C270.61,82.01 269.61,82.40 268.60,82.80 C267.59,83.20 266.59,83.61 265.58,84.02 C264.58,84.44 263.57,84.86 262.57,85.28 C261.56,85.71 260.56,86.14 259.55,86.58 C258.54,87.02 257.54,87.46 256.53,87.91 C255.53,88.36 254.52,88.81 253.52,89.27 C252.51,89.72 251.51,90.18 250.50,90.65 C249.49,91.11 248.49,91.58 247.48,92.05 C246.48,92.52 245.47,92.99 244.47,93.47 C243.46,93.94 242.46,94.42 241.45,94.90 C240.44,95.38 239.44,95.86 238.43,96.34 C237.43,96.82 236.42,97.30 235.42,97.78 C234.41,98.26 233.41,98.74 232.40,99.22 C231.39,99.70 230.39,100.18 229.38,100.66 C228.38,101.14 227.37,101.62 226.37,102.09 C225.36,102.56 224.36,103.04 223.35,103.51 C222.34,103.98 221.34,104.44 220.33,104.91 C219.33,105.37 218.32,105.83 217.32,106.29 C216.31,106.74 215.31,107.20 214.30,107.64 C213.29,108.09 212.29,108.53 211.28,108.97 C210.28,109.41 209.27,109.84 208.27,110.26 C207.26,110.69 206.26,111.11 205.25,111.52 C204.24,111.93 203.24,112.34 202.23,112.74 C201.23,113.13 200.22,113.53 199.22,113.91 C198.21,114.29 197.21,114.66 196.20,115.03 C195.19,115.39 194.19,115.75 193.18,116.10 C192.18,116.44 191.17,116.78 190.17,117.11 C189.16,117.44 188.16,117.75 187.15,118.06 C186.14,118.36 185.14,118.66 184.13,118.94 C183.13,119.23 182.12,119.50 181.12,119.76 C180.11,120.02 179.11,119.94 178.10,120.50 C177.09,121.06 176.09,122.25 175.08,123.11 C174.07,123.97 173.07,124.82 172.06,125.67 C171.05,126.52 170.05,127.36 169.04,128.20 C168.03,129.04 167.03,129.87 166.02,130.70 C165.02,131.53 164.01,132.36 163.00,133.19 C162.00,134.02 160.99,134.84 159.98,135.67 C158.98,136.50 157.97,137.33 156.96,138.16 C155.96,138.99 154.95,139.82 153.94,140.65 C152.94,141.49 151.93,142.33 150.92,143.17 C149.92,144.02 148.91,144.87 147.90,145.72 C146.90,146.58 145.89,147.44 144.89,148.31 C143.88,149.19 142.87,150.06 141.87,150.95 C140.86,151.84 139.85,152.74 138.85,153.65 C137.84,154.57 136.83,155.49 135.83,156.42 C134.82,157.36 133.81,158.30 132.81,159.26 C131.80,160.21 130.79,161.18 129.79,162.15 C128.78,163.13 127.77,164.11 126.77,165.10 C125.76,166.08 124.76,167.08 123.75,168.07 C122.74,169.07 121.74,170.08 120.73,171.08 C119.72,172.08 118.72,173.09 117.71,174.10 C116.70,175.11 115.70,176.12 114.69,177.13 C113.68,178.14 112.68,179.14 111.67,180.15 C110.66,181.15 109.66,182.16 108.65,183.15 C107.64,184.15 106.64,185.15 105.63,186.13 C104.63,187.12 103.62,188.10 102.61,189.07 C101.61,190.05 100.60,191.01 99.59,191.97 C98.59,192.92 97.58,193.87 96.57,194.80 C95.57,195.74 94.56,196.66 93.55,197.57 C92.55,198.48 91.54,199.38 90.53,200.26 C89.53,201.14 88.52,202.01 87.51,202.85 C86.51,203.70 85.50,204.54 84.50,205.35 C83.49,206.16 82.48,206.96 81.48,207.73 C80.47,208.51 79.46,209.27 78.46,210.00 C77.45,210.73 76.44,211.44 75.44,212.13 C74.43,212.81 73.42,213.48 72.42,214.11 C71.41,214.75 70.40,215.36 69.40,215.95 C68.39,216.53 67.38,217.09 66.38,217.62 C65.37,218.14 64.37,218.64 63.36,219.11 C62.35,219.58 61.35,220.02 60.34,220.42 C59.33,220.82 58.33,221.19 57.32,221.53 C56.31,221.87 54.80,222.29 54.30,222.44 Z" fill="rgb(213,228,248)" fill-opacity="0.56"/></g></g>
<line x1="56.00" y1="192.30" x2="301.60" y2="192.30" stroke="#8a8a8a" stroke-width="1.2"/>
<line x1="57.20" y1="186.66" x2="95.80" y2="186.66" stroke="#9a9a9a" stroke-width="1.2"/>
<line x1="98.00" y1="178.60" x2="136.90" y2="178.60" stroke="#707070" stroke-width="1.2"/>
<line x1="138.10" y1="142.50" x2="177.90" y2="142.50" stroke="#c6c6c6" stroke-width="1.2"/>
<line x1="179.10" y1="132.64" x2="217.80" y2="132.64" stroke="#707070" stroke-width="1.2"/>
<line x1="219.90" y1="176.48" x2="258.00" y2="176.48" stroke="#787878" stroke-width="1.2"/>
<line x1="260.00" y1="186.51" x2="299.00" y2="186.51" stroke="#7a7a7a" stroke-width="1.2"/>
<line x1="96.40" y1="186.06" x2="96.40" y2="192.30" stroke="#8f8f8f" stroke-width="1.2"/>
<line x1="137.50" y1="178.00" x2="137.50" y2="192.30" stroke="#5a5a5a" stroke-width="1.2"/>
<line x1="178.50" y1="141.90" x2="178.50" y2="192.30" stroke="#555555" stroke-width="1.2"/>
<line x1="218.40" y1="132.04" x2="218.40" y2="192.30" stroke="#8a8a8a" stroke-width="1.2"/>
<line x1="258.60" y1="175.88" x2="258.60" y2="192.30" stroke="#5a5a5a" stroke-width="1.2"/>
<line x1="299.60" y1="185.91" x2="299.60" y2="192.30" stroke="#8a8a8a" stroke-width="1.2"/>
<line x1="56.60" y1="186.06" x2="56.60" y2="192.30" stroke="#555555" stroke-width="1.2"/>
<line x1="97.40" y1="178.00" x2="97.40" y2="192.30" stroke="#5a5a5a" stroke-width="1.2"/>
<line x1="137.50" y1="141.90" x2="137.50" y2="192.30" stroke="#555555" stroke-width="1.2"/>
<line x1="178.50" y1="132.04" x2="178.50" y2="192.30" stroke="#555555" stroke-width="1.2"/>
<line x1="219.30" y1="175.88" x2="219.30" y2="192.30" stroke="#5a5a5a" stroke-width="1.2"/>
<line x1="259.40" y1="185.91" x2="259.40" y2="192.30" stroke="#5a5a5a" stroke-width="1.2"/>
<g clip-path="url(#clipC)"><g><path d="M54.30,183.30 C68.17,176.63 116.87,153.77 137.50,143.30 C158.13,132.83 164.55,128.72 178.10,120.50 C191.65,112.28 198.10,107.78 218.80,94.00 C239.50,80.22 288.38,47.17 302.30,37.80" fill="none" stroke="#6470f2" stroke-width="0.9"/></g></g>
<circle cx="137.50" cy="143.30" r="2.6" fill="#000"/>
<circle cx="218.80" cy="94.00" r="2.6" fill="#000"/>
</g>
<g font-family='"Liberation Sans", sans-serif' fill="#000" text-rendering="geometricPrecision" style="font-kerning:none;font-variant-ligatures:none" stroke="#000" stroke-width="0.12">
<text x="-0.03" y="12.00" font-size="15.00" textLength="9.05" lengthAdjust="spacingAndGlyphs">A</text>
<text x="348.81" y="11.00" font-size="15.00" textLength="8.90" lengthAdjust="spacingAndGlyphs">B</text>
<text x="167.35" y="254.00" font-size="15.20" textLength="9.24" lengthAdjust="spacingAndGlyphs">C</text>
<text x="43.06" y="16.00" font-size="10.00" textLength="5.57" lengthAdjust="spacingAndGlyphs">8</text>
<text x="43.29" y="51.00" font-size="10.00" textLength="5.19" lengthAdjust="spacingAndGlyphs">4</text>
<text x="42.98" y="87.00" font-size="10.00" textLength="5.74" lengthAdjust="spacingAndGlyphs">2</text>
<text x="42.67" y="122.00" font-size="10.00" textLength="6.06" lengthAdjust="spacingAndGlyphs">1</text>
<text x="34.71" y="157.00" font-size="10.00" textLength="13.91" lengthAdjust="spacingAndGlyphs">0.5</text>
<text x="29.82" y="193.00" font-size="10.00" textLength="18.78" lengthAdjust="spacingAndGlyphs">0.25</text>
<text x="45.77" y="209.00" font-size="10.00" textLength="24.08" lengthAdjust="spacingAndGlyphs">0.125</text>
<text x="88.98" y="209.00" font-size="10.00" textLength="18.78" lengthAdjust="spacingAndGlyphs">0.25</text>
<text x="131.98" y="209.00" font-size="10.00" textLength="13.91" lengthAdjust="spacingAndGlyphs">0.5</text>
<text x="176.30" y="209.00" font-size="10.00" textLength="6.06" lengthAdjust="spacingAndGlyphs">1</text>
<text x="217.17" y="209.00" font-size="10.00" textLength="5.74" lengthAdjust="spacingAndGlyphs">2</text>
<text x="258.04" y="209.00" font-size="10.00" textLength="5.19" lengthAdjust="spacingAndGlyphs">4</text>
<text x="298.37" y="209.00" font-size="10.00" textLength="5.57" lengthAdjust="spacingAndGlyphs">8</text>
<text x="392.66" y="16.00" font-size="10.00" textLength="5.57" lengthAdjust="spacingAndGlyphs">8</text>
<text x="392.89" y="51.00" font-size="10.00" textLength="5.19" lengthAdjust="spacingAndGlyphs">4</text>
<text x="392.58" y="87.00" font-size="10.00" textLength="5.74" lengthAdjust="spacingAndGlyphs">2</text>
<text x="392.27" y="122.00" font-size="10.00" textLength="6.06" lengthAdjust="spacingAndGlyphs">1</text>
<text x="384.31" y="157.00" font-size="10.00" textLength="13.91" lengthAdjust="spacingAndGlyphs">0.5</text>
<text x="379.42" y="193.00" font-size="10.00" textLength="18.78" lengthAdjust="spacingAndGlyphs">0.25</text>
<text x="395.37" y="209.00" font-size="10.00" textLength="24.08" lengthAdjust="spacingAndGlyphs">0.125</text>
<text x="438.58" y="209.00" font-size="10.00" textLength="18.78" lengthAdjust="spacingAndGlyphs">0.25</text>
<text x="481.58" y="209.00" font-size="10.00" textLength="13.91" lengthAdjust="spacingAndGlyphs">0.5</text>
<text x="525.90" y="209.00" font-size="10.00" textLength="6.06" lengthAdjust="spacingAndGlyphs">1</text>
<text x="566.77" y="209.00" font-size="10.00" textLength="5.74" lengthAdjust="spacingAndGlyphs">2</text>
<text x="607.64" y="209.00" font-size="10.00" textLength="5.19" lengthAdjust="spacingAndGlyphs">4</text>
<text x="647.97" y="209.00" font-size="10.00" textLength="5.57" lengthAdjust="spacingAndGlyphs">8</text>
<text x="208.66" y="254.00" font-size="10.00" textLength="5.57" lengthAdjust="spacingAndGlyphs">8</text>
<text x="208.89" y="289.00" font-size="10.00" textLength="5.19" lengthAdjust="spacingAndGlyphs">4</text>
<text x="208.58" y="325.00" font-size="10.00" textLength="5.74" lengthAdjust="spacingAndGlyphs">2</text>
<text x="208.27" y="360.00" font-size="10.00" textLength="6.06" lengthAdjust="spacingAndGlyphs">1</text>
<text x="200.31" y="395.00" font-size="10.00" textLength="13.91" lengthAdjust="spacingAndGlyphs">0.5</text>
<text x="195.42" y="431.00" font-size="10.00" textLength="18.78" lengthAdjust="spacingAndGlyphs">0.25</text>
<text x="211.37" y="447.00" font-size="10.00" textLength="24.08" lengthAdjust="spacingAndGlyphs">0.125</text>
<text x="254.58" y="447.00" font-size="10.00" textLength="18.78" lengthAdjust="spacingAndGlyphs">0.25</text>
<text x="297.58" y="447.00" font-size="10.00" textLength="13.91" lengthAdjust="spacingAndGlyphs">0.5</text>
<text x="341.90" y="447.00" font-size="10.00" textLength="6.06" lengthAdjust="spacingAndGlyphs">1</text>
<text x="382.77" y="447.00" font-size="10.00" textLength="5.74" lengthAdjust="spacingAndGlyphs">2</text>
<text x="423.64" y="447.00" font-size="10.00" textLength="5.19" lengthAdjust="spacingAndGlyphs">4</text>
<text x="463.97" y="447.00" font-size="10.00" textLength="5.57" lengthAdjust="spacingAndGlyphs">8</text>
<text x="307.53" y="195.00" font-size="10.00" textLength="5.24" lengthAdjust="spacingAndGlyphs">0</text>
<text x="305.26" y="180.00" font-size="10.00" textLength="10.82" lengthAdjust="spacingAndGlyphs">10</text>
<text x="305.52" y="164.00" font-size="10.00" textLength="10.55" lengthAdjust="spacingAndGlyphs">20</text>
<text x="305.64" y="149.00" font-size="10.00" textLength="10.42" lengthAdjust="spacingAndGlyphs">30</text>
<text x="305.79" y="133.00" font-size="10.00" textLength="10.38" lengthAdjust="spacingAndGlyphs">40</text>
<text x="658.63" y="195.00" font-size="10.00" textLength="5.24" lengthAdjust="spacingAndGlyphs">0</text>
<text x="656.36" y="180.00" font-size="10.00" textLength="10.82" lengthAdjust="spacingAndGlyphs">10</text>
<text x="656.62" y="164.00" font-size="10.00" textLength="10.55" lengthAdjust="spacingAndGlyphs">20</text>
<text x="656.74" y="149.00" font-size="10.00" textLength="10.42" lengthAdjust="spacingAndGlyphs">30</text>
<text x="656.89" y="133.00" font-size="10.00" textLength="10.38" lengthAdjust="spacingAndGlyphs">40</text>
<text x="474.53" y="433.00" font-size="10.00" textLength="5.24" lengthAdjust="spacingAndGlyphs">0</text>
<text x="472.26" y="418.00" font-size="10.00" textLength="10.82" lengthAdjust="spacingAndGlyphs">10</text>
<text x="472.52" y="402.00" font-size="10.00" textLength="10.55" lengthAdjust="spacingAndGlyphs">20</text>
<text x="472.64" y="387.00" font-size="10.00" textLength="10.42" lengthAdjust="spacingAndGlyphs">30</text>
<text x="472.79" y="371.00" font-size="10.00" textLength="10.38" lengthAdjust="spacingAndGlyphs">40</text>
<text x="133.18" y="225.00" font-size="10.00" textLength="19.36" lengthAdjust="spacingAndGlyphs">Fold</text>
<text x="154.89" y="225.00" font-size="10.00" textLength="31.43" lengthAdjust="spacingAndGlyphs">change</text>
<text x="188.22" y="225.00" font-size="10.00" textLength="9.03" lengthAdjust="spacingAndGlyphs">in</text>
<text x="199.42" y="225.00" font-size="10.00" textLength="25.09" lengthAdjust="spacingAndGlyphs">UACR</text>
<text x="483.98" y="225.00" font-size="10.00" textLength="19.36" lengthAdjust="spacingAndGlyphs">Fold</text>
<text x="505.69" y="225.00" font-size="10.00" textLength="31.43" lengthAdjust="spacingAndGlyphs">change</text>
<text x="539.02" y="225.00" font-size="10.00" textLength="9.03" lengthAdjust="spacingAndGlyphs">in</text>
<text x="550.22" y="225.00" font-size="10.00" textLength="25.09" lengthAdjust="spacingAndGlyphs">UACR</text>
<text x="300.58" y="463.00" font-size="10.00" textLength="19.36" lengthAdjust="spacingAndGlyphs">Fold</text>
<text x="322.29" y="463.00" font-size="10.00" textLength="31.43" lengthAdjust="spacingAndGlyphs">change</text>
<text x="355.62" y="463.00" font-size="10.00" textLength="9.03" lengthAdjust="spacingAndGlyphs">in</text>
<text x="366.82" y="463.00" font-size="10.00" textLength="25.09" lengthAdjust="spacingAndGlyphs">UACR</text>
<text x="0" y="0" font-size="10.00" textLength="52.23" lengthAdjust="spacingAndGlyphs" transform="translate(324.80 126.24) rotate(90)">Distribution</text>
<text x="0" y="0" font-size="10.00" textLength="13.15" lengthAdjust="spacingAndGlyphs" transform="translate(324.80 180.58) rotate(90)">(%)</text>
<text x="0" y="0" font-size="10.00" textLength="52.23" lengthAdjust="spacingAndGlyphs" transform="translate(677.60 126.84) rotate(90)">Distribution</text>
<text x="0" y="0" font-size="10.00" textLength="13.15" lengthAdjust="spacingAndGlyphs" transform="translate(677.60 181.18) rotate(90)">(%)</text>
<text x="0" y="0" font-size="10.00" textLength="52.23" lengthAdjust="spacingAndGlyphs" transform="translate(493.90 364.04) rotate(90)">Distribution</text>
<text x="0" y="0" font-size="10.00" textLength="13.15" lengthAdjust="spacingAndGlyphs" transform="translate(493.90 418.38) rotate(90)">(%)</text>
<text x="0" y="0" font-size="10.00" textLength="31.11" lengthAdjust="spacingAndGlyphs" transform="translate(22.60 188.39) rotate(-90)">Hazard</text>
<text x="0" y="0" font-size="10.00" textLength="20.54" lengthAdjust="spacingAndGlyphs" transform="translate(22.60 154.80) rotate(-90)">ratio</text>
<text x="0" y="0" font-size="10.00" textLength="13.56" lengthAdjust="spacingAndGlyphs" transform="translate(22.60 132.16) rotate(-90)">for</text>
<text x="0" y="0" font-size="10.00" textLength="45.87" lengthAdjust="spacingAndGlyphs" transform="translate(22.60 116.53) rotate(-90)">composite</text>
<text x="0" y="0" font-size="10.00" textLength="29.92" lengthAdjust="spacingAndGlyphs" transform="translate(22.60 68.60) rotate(-90)">kidney</text>
<text x="0" y="0" font-size="10.00" textLength="24.81" lengthAdjust="spacingAndGlyphs" transform="translate(22.60 36.73) rotate(-90)">event</text>
<text x="0" y="0" font-size="10.00" textLength="30.69" lengthAdjust="spacingAndGlyphs" transform="translate(373.60 187.98) rotate(-90)">Hazard</text>
<text x="0" y="0" font-size="10.00" textLength="20.54" lengthAdjust="spacingAndGlyphs" transform="translate(373.60 154.60) rotate(-90)">ratio</text>
<text x="0" y="0" font-size="10.00" textLength="13.45" lengthAdjust="spacingAndGlyphs" transform="translate(373.60 131.96) rotate(-90)">for</text>
<text x="0" y="0" font-size="10.00" textLength="18.38" lengthAdjust="spacingAndGlyphs" transform="translate(373.60 116.05) rotate(-90)">30%</text>
<text x="0" y="0" font-size="10.00" textLength="31.87" lengthAdjust="spacingAndGlyphs" transform="translate(373.60 94.72) rotate(-90)">decline</text>
<text x="0" y="0" font-size="10.00" textLength="8.43" lengthAdjust="spacingAndGlyphs" transform="translate(373.60 60.82) rotate(-90)">in</text>
<text x="0" y="0" font-size="10.00" textLength="23.59" lengthAdjust="spacingAndGlyphs" transform="translate(373.60 50.18) rotate(-90)">eGFR</text>
<text x="0" y="0" font-size="10.00" textLength="31.11" lengthAdjust="spacingAndGlyphs" transform="translate(193.40 392.59) rotate(-90)">Hazard</text>
<text x="0" y="0" font-size="10.00" textLength="21.71" lengthAdjust="spacingAndGlyphs" transform="translate(193.40 359.34) rotate(-90)">ratio</text>
<text x="0" y="0" font-size="10.00" textLength="12.63" lengthAdjust="spacingAndGlyphs" transform="translate(193.40 335.55) rotate(-90)">for</text>
<text x="0" y="0" font-size="10.00" textLength="19.60" lengthAdjust="spacingAndGlyphs" transform="translate(193.40 320.81) rotate(-90)">KRTI</text>
</g>
</svg>
</body></html>
